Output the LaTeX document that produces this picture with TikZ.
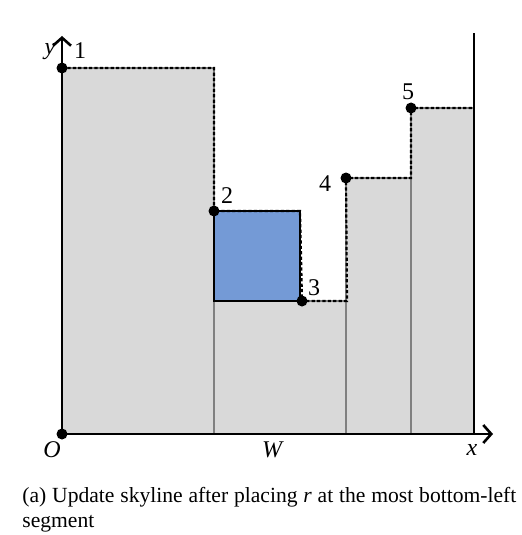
\documentclass[tikz,border=0pt]{standalone}
\usepackage{fontspec}
\setmainfont{Liberation Serif}
\usetikzlibrary{arrows.meta}
\definecolor{skygray}{RGB}{217,217,217}
\definecolor{rectblue}{RGB}{116,154,214}
\definecolor{sepgray}{RGB}{128,128,128}
\tikzset{
  blockfill/.style={fill=skygray, draw=sepgray, line width=0.6pt},
  placedrect/.style={fill=rectblue, draw=black, line width=0.8pt},
  skyline/.style={line width=1.1pt, dash pattern=on 1.6pt off 1.1pt},
  axisline/.style={-{Straight Barb[length=4pt,width=9pt]}, line width=1.3pt},
  cornerdot/.style={circle, fill=black, inner sep=0pt, minimum size=5.5pt},
  ptlabel/.style={font=\fontsize{12}{13}\selectfont, inner sep=0pt},
}

\begin{document}
\begin{tikzpicture}[x=0.5pt, y=-0.5pt]
    \useasboundingbox (0,0) rectangle (521,535);
    % occupied blocks
    \draw[blockfill] (62,68) rectangle (214,434);
    \draw[blockfill] (214,301) rectangle (346,434);
    \draw[blockfill] (346,178) rectangle (411,434);
    \draw[blockfill] (411,108) rectangle (474,434);
    \draw[placedrect] (214,211) rectangle (300,301);
    % skyline corners
    \node[cornerdot] (p1) at (62,68) {};
    \node[cornerdot] (p2) at (214,211) {};
    \node[cornerdot] (p3) at (302,301) {};
    \node[cornerdot] (p4) at (346,178) {};
    \node[cornerdot] (p5) at (411,108) {};
    \coordinate (c1) at (214,68);
    \coordinate (c2) at (300,211);
    \coordinate (c3) at (347,301);
    \coordinate (c4) at (411,178);
    \coordinate (c5) at (474,108);
    \draw[skyline] (p1.center) -- (c1) -- (p2.center) -- (c2) -- (p3.center)
      -- (c3) -- (p4.center) -- (c4) -- (p5.center) -- (c5);
    % axes
    \coordinate (O) at (62,434);
    \coordinate (ytop) at (62,36);
    \coordinate (xend) at (493,434);
    \coordinate (wtop) at (474,33);
    \coordinate (wbot) at (474,434);
    \draw[line width=1.3pt] (wbot) -- (wtop);
    \draw[axisline] (O) -- (ytop);
    \draw[axisline] (O) -- (xend);
    \node[cornerdot] (origin) at (O) {};
    % labels
    \node[ptlabel] (l1) at (80,51) {1};
    \node[ptlabel] (l2) at (227,196) {2};
    \node[ptlabel] (l3) at (314,288) {3};
    \node[ptlabel] (l4) at (325,184) {4};
    \node[ptlabel] (l5) at (408,92) {5};
    \node[ptlabel] (ly) at (50,52) {\textit{y}};
    \node[ptlabel] (lO) at (52,450) {\textit{O}};
    \node[ptlabel] (lW) at (273,450) {\textit{W}};
    \node[ptlabel] (lx) at (472,450) {\textit{x}};
    \node[anchor=north west, inner sep=0pt, text width=247pt, align=justify,
      font=\fontsize{10.8}{12.2}\selectfont] (caption) at (22,487)
      {\hyphenpenalty=10000 (a) Update skyline after placing \textit{r} at the most bottom-left segment};
\end{tikzpicture}
\end{document}
